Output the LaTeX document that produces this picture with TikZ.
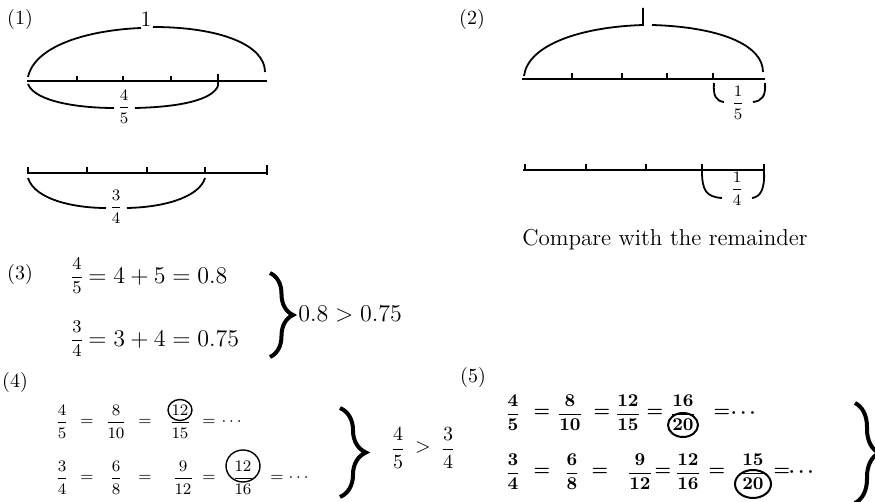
\documentclass[tikz,border=0pt]{standalone}
\usepackage{amsmath}
\usepackage{tikz}
\usetikzlibrary{decorations.pathreplacing, shapes.geometric}
\tikzset{
    part_lbl/.style={font=\fontsize{10}{12}\selectfont, inner sep=0pt},
    frac_lbl/.style={font=\fontsize{8.5}{10}\selectfont, inner sep=0pt},
    eq_txt/.style={font=\fontsize{12}{14}\selectfont, inner sep=0pt, anchor=west},
    row_four/.style={font=\fontsize{8.5}{10}\selectfont, inner sep=0pt},
    row_five/.style={font=\fontsize{9.5}{11}\selectfont\boldmath, inner sep=0pt},
    ruler_line/.style={line width=0.9pt},
    brace_arc/.style={line width=0.9pt},
    big_brace/.style={decorate, decoration={brace, amplitude=#1}, line width=2pt},
    ring_mark/.style={ellipse, draw, line width=0.7pt, inner sep=0pt}
}

\begin{document}
\begin{tikzpicture}[x=0.5pt, y=-0.5pt]
    \useasboundingbox (0,0) rectangle (875,502);

    % Part (1)
    \node[part_lbl] (p1) at (20,20) {(1)};
    \draw[ruler_line] (27,81) -- (267,81);
    \foreach \tx in {77,123,171} \draw[ruler_line] (\tx,81) -- (\tx,76);
    \draw[ruler_line] (218,86) -- (218,74);
    \node[font=\fontsize{11}{13}\selectfont, inner sep=0pt] (one) at (146,19) {1};
    \draw[brace_arc] (28,77) .. controls (35,45) and (90,30) .. (141,28);
    \draw[brace_arc] (153,27) .. controls (220,27) and (265,45) .. (265,72);
    \node[frac_lbl] (f45a) at (124,107) {$\dfrac{4}{5}$};
    \draw[brace_arc] (28,84) .. controls (35,102) and (80,108) .. (114,108);
    \draw[brace_arc] (135,108) .. controls (180,107) and (212,100) .. (218,86);

    \draw[ruler_line] (27,173) -- (267,173);
    \foreach \tx in {28,87,147,205} \draw[ruler_line] (\tx,173) -- (\tx,167);
    \draw[ruler_line] (267,175) -- (267,165);
    \node[frac_lbl] (f34a) at (116,207) {$\dfrac{3}{4}$};
    \draw[brace_arc] (28,178) .. controls (35,200) and (75,208) .. (106,208);
    \draw[brace_arc] (127,208) .. controls (170,207) and (200,195) .. (205,178);

    % Part (2)
    \node[part_lbl] (p2) at (472,20) {(2)};
    \draw[ruler_line] (522,79) -- (765,79);
    \foreach \tx in {572,622,667,713} \draw[ruler_line] (\tx,79) -- (\tx,73);
    \draw[brace_arc] (524,76) .. controls (528,45) and (580,27) .. (643,25) -- (643,8);
    \draw[brace_arc] (652,25) .. controls (720,27) and (763,45) .. (763,72);
    \node[frac_lbl] (f15) at (738,103) {$\dfrac{1}{5}$};
    \draw[brace_arc] (714,83) .. controls (713,96) and (716,101) .. (724,102);
    \draw[brace_arc] (765,83) .. controls (766,96) and (762,101) .. (753,102);

    \draw[ruler_line] (523,170) -- (765,170);
    \foreach \tx in {525,586,646,702,764} \draw[ruler_line] (\tx,171) -- (\tx,164);
    \node[frac_lbl] (f14) at (737,189) {$\dfrac{1}{4}$};
    \draw[brace_arc] (702,171) .. controls (702,190) and (706,197) .. (722,198);
    \draw[brace_arc] (764,171) .. controls (765,190) and (760,197) .. (752,198);

    \node[font=\fontsize{11.5}{13}\selectfont, inner sep=0pt] (cmp) at (665,240) {Compare with the remainder};

    % Part (3)
    \node[part_lbl] (p3) at (20,275) {(3)};
    \node[frac_lbl, font=\fontsize{9.5}{11}\selectfont] (f45c) at (77,276) {$\dfrac{4}{5}$};
    \node[eq_txt] (r3a) at (88,277) {$= 4 + 5 = 0.8$};
    \node[frac_lbl, font=\fontsize{9.5}{11}\selectfont] (f34c) at (77,339) {$\dfrac{3}{4}$};
    \node[eq_txt] (r3b) at (88,340) {$= 3 + 4 = 0.75$};
    \draw[big_brace=11.5pt] (270,273) -- (270,357);
    \node[eq_txt] (res3) at (298,314) {$0.8 > 0.75$};

    % Part (4)
    \node[part_lbl] (p4) at (15,383) {(4)};
    \node[row_four] (f45d) at (62,422) {$\dfrac{4}{5}$};
    \node[row_four] (e4a1) at (87,422) {$=$};
    \node[row_four] (f810d) at (116,422) {$\dfrac{8}{10}$};
    \node[row_four] (e4a2) at (145,422) {$=$};
    \node[row_four] (f1215d) at (180,422) {$\dfrac{12}{15}$};
    \node[row_four] (e4a3) at (209,422) {$=$};
    \node[row_four] (c4a) at (233,422) {$\cdots$};
    \node[ring_mark, minimum width=12pt, minimum height=10.5pt] (ring4a) at (180,410) {};

    \node[row_four] (f34d) at (62,478) {$\dfrac{3}{4}$};
    \node[row_four] (e4b1) at (87,478) {$=$};
    \node[row_four] (f68d) at (116,478) {$\dfrac{6}{8}$};
    \node[row_four] (e4b2) at (145,478) {$=$};
    \node[row_four] (f912d) at (183,478) {$\dfrac{9}{12}$};
    \node[row_four] (e4b3) at (209,478) {$=$};
    \node[row_four] (f1216d) at (243,478) {$\dfrac{12}{16}$};
    \node[row_four] (e4b4) at (277,478) {$=$};
    \node[row_four] (c4b) at (300,478) {$\cdots$};
    \node[ring_mark, minimum width=17pt, minimum height=16pt] (ring4b) at (243,466) {};

    \draw[big_brace=13pt] (340,408) -- (340,497);
    \node[row_four, font=\fontsize{10}{12}\selectfont] (f45r) at (398,448) {$\dfrac{4}{5}$};
    \node[row_four, font=\fontsize{10}{12}\selectfont] (gt4) at (423,448) {$>$};
    \node[row_four, font=\fontsize{10}{12}\selectfont] (f34r) at (448,448) {$\dfrac{3}{4}$};

    % Part (5)
    \node[part_lbl] (p5) at (473,378) {(5)};
    \node[row_five] (f45e) at (513,413) {$\dfrac{4}{5}$};
    \node[row_five] (e5a1) at (542,413) {$=$};
    \node[row_five] (f810e) at (570,413) {$\dfrac{8}{10}$};
    \node[row_five] (e5a2) at (602,413) {$=$};
    \node[row_five] (f1215e) at (628,413) {$\dfrac{12}{15}$};
    \node[row_five] (e5a3) at (655,413) {$=$};
    \node[row_five] (f1620e) at (683,413) {$\dfrac{16}{20}$};
    \node[row_five] (e5a4) at (722,413) {$=$};
    \node[row_five] (c5a) at (745,413) {$\cdots$};
    \node[ring_mark, line width=1pt, minimum width=15pt, minimum height=12pt] (ring5a) at (683,425) {};

    \node[row_five] (f34e) at (513,472) {$\dfrac{3}{4}$};
    \node[row_five] (e5b1) at (542,472) {$=$};
    \node[row_five] (f68e) at (572,472) {$\dfrac{6}{8}$};
    \node[row_five] (e5b2) at (600,472) {$=$};
    \node[row_five] (f912e) at (640,472) {$\dfrac{9}{12}$};
    \node[row_five] (e5b3) at (663,472) {$=$};
    \node[row_five] (f1216e) at (688,472) {$\dfrac{12}{16}$};
    \node[row_five] (e5b4) at (717,472) {$=$};
    \node[row_five] (f1520e) at (753,472) {$\dfrac{15}{20}$};
    \node[row_five] (e5b5) at (782,472) {$=$};
    \node[row_five] (c5b) at (803,472) {$\cdots$};
    \node[ring_mark, line width=1pt, minimum width=18pt, minimum height=14pt] (ring5b) at (753,484) {};

    \draw[big_brace=12pt] (855,403) -- (855,503);
\end{tikzpicture}
\end{document}
